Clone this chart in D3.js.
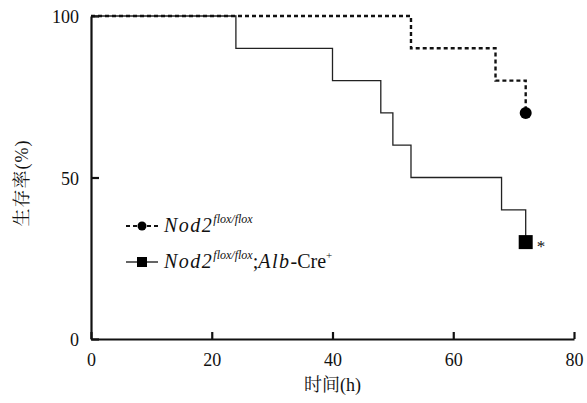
<!DOCTYPE html>
<html>
<head>
<meta charset="utf-8">
<script src="https://d3js.org/d3.v7.min.js"></script>
<style>
  body { margin: 0; background: #fff; }
  .axis path, .axis line { stroke: #111; }
</style>
</head>
<body>
<div id="chart"></div>
<script>
// survival curves, step points (time h, survival %)
var floxTimes = [0, 53, 67, 72];
var floxSurvival = [100, 90, 80, 70];
var creTimes = [0, 24, 40, 48, 50, 53, 68, 72];
var creSurvival = [100, 90, 80, 70, 60, 50, 40, 30];
var xTicks = [0, 20, 40, 60, 80];
var yTicks = [0, 50, 100];

var FONT = '"Liberation Serif", "Noto Serif CJK SC"';
var width = 587, height = 403;
var margin = { top: 16, right: 13, bottom: 64, left: 91 };

var svg = d3.select("#chart").append("svg")
    .attr("width", width)
    .attr("height", height);

var x = d3.scaleLinear().domain([0, 80]).range([margin.left, width - margin.right]);
var y = d3.scaleLinear().domain([0, 100]).range([height - margin.bottom, margin.top]);

// axes, ticks point inward
var xAxis = svg.append("g")
    .attr("class", "axis")
    .attr("transform", "translate(0," + y(0) + ")")
    .call(d3.axisBottom(x).tickValues(xTicks).tickSizeInner(-7).tickSizeOuter(0).tickPadding(14));
var yAxis = svg.append("g")
    .attr("class", "axis")
    .attr("transform", "translate(" + x(0) + ",0)")
    .call(d3.axisLeft(y).tickValues(yTicks).tickSizeInner(-8).tickSizeOuter(0).tickPadding(12));

svg.selectAll(".axis path").attr("stroke-width", 2.2);
svg.selectAll(".axis line").attr("stroke-width", 2.2);
svg.selectAll(".axis text").attr("font-size", 18).attr("fill", "#111");
yAxis.selectAll("text").attr("dy", "0.38em");

var line = d3.line()
    .x(d => x(d[0]))
    .y(d => y(d[1]))
    .curve(d3.curveStepAfter);

var floxData = floxTimes.map((t, i) => [t, floxSurvival[i]]);
var creData = creTimes.map((t, i) => [t, creSurvival[i]]);

svg.append("path")
    .datum(creData)
    .attr("fill", "none")
    .attr("stroke", "#222")
    .attr("stroke-width", 1.3)
    .attr("d", line);

svg.append("path")
    .datum(floxData)
    .attr("fill", "none")
    .attr("stroke", "#111")
    .attr("stroke-width", 2.4)
    .attr("stroke-dasharray", "4,3")
    .attr("d", line);

// end markers
var fl = floxData[floxData.length - 1];
svg.append("circle")
    .attr("cx", x(fl[0]))
    .attr("cy", y(fl[1]))
    .attr("r", 6)
    .attr("fill", "#000");

var cl = creData[creData.length - 1];
svg.append("rect")
    .attr("x", x(cl[0]) - 7)
    .attr("y", y(cl[1]) - 7)
    .attr("width", 14)
    .attr("height", 14)
    .attr("fill", "#000");

svg.append("text")
    .attr("x", x(cl[0]) + 11)
    .attr("y", y(cl[1]) + 10)
    .attr("font-size", 17)
    .text("*");

// legend
var lg = svg.append("g");
lg.append("line")
    .attr("x1", 126).attr("x2", 158)
    .attr("y1", 226).attr("y2", 226)
    .attr("stroke", "#111").attr("stroke-width", 2)
    .attr("stroke-dasharray", "4,3");
lg.append("circle").attr("cx", 142).attr("cy", 226).attr("r", 4.5).attr("fill", "#000");
var t1 = lg.append("text").attr("x", 164).attr("y", 232).attr("font-size", 20);
t1.append("tspan").attr("font-style", "italic").attr("letter-spacing", 1.5).text("Nod2");
t1.append("tspan").attr("font-style", "italic").attr("font-size", 12).attr("dy", -9).text("flox/flox");

lg.append("line")
    .attr("x1", 126).attr("x2", 158)
    .attr("y1", 262).attr("y2", 262)
    .attr("stroke", "#111").attr("stroke-width", 1.3);
lg.append("rect").attr("x", 137).attr("y", 257).attr("width", 10).attr("height", 10).attr("fill", "#000");
var t2 = lg.append("text").attr("x", 164).attr("y", 268).attr("font-size", 20);
t2.append("tspan").attr("font-style", "italic").attr("letter-spacing", 1.5).text("Nod2");
t2.append("tspan").attr("font-style", "italic").attr("font-size", 12).attr("dy", -9).text("flox/flox");
t2.append("tspan").attr("dy", 9).text(";");
t2.append("tspan").attr("font-style", "italic").attr("letter-spacing", 1.5).text("Alb");
t2.append("tspan").text("-Cre");
t2.append("tspan").attr("font-size", 11).attr("dy", -9).text("+");

// axis titles
svg.append("text")
    .attr("x", x(40))
    .attr("y", 391)
    .attr("text-anchor", "middle")
    .attr("font-size", 18)
    .text("时间(h)");

svg.append("text")
    .attr("transform", "translate(28," + 183 + ") rotate(-90)")
    .attr("text-anchor", "middle")
    .attr("font-size", 18)
    .attr("letter-spacing", 1)
    .text("生存率(%)");

svg.selectAll("text").style("font-family", FONT).attr("fill", "#111");
</script>
</body>
</html>
